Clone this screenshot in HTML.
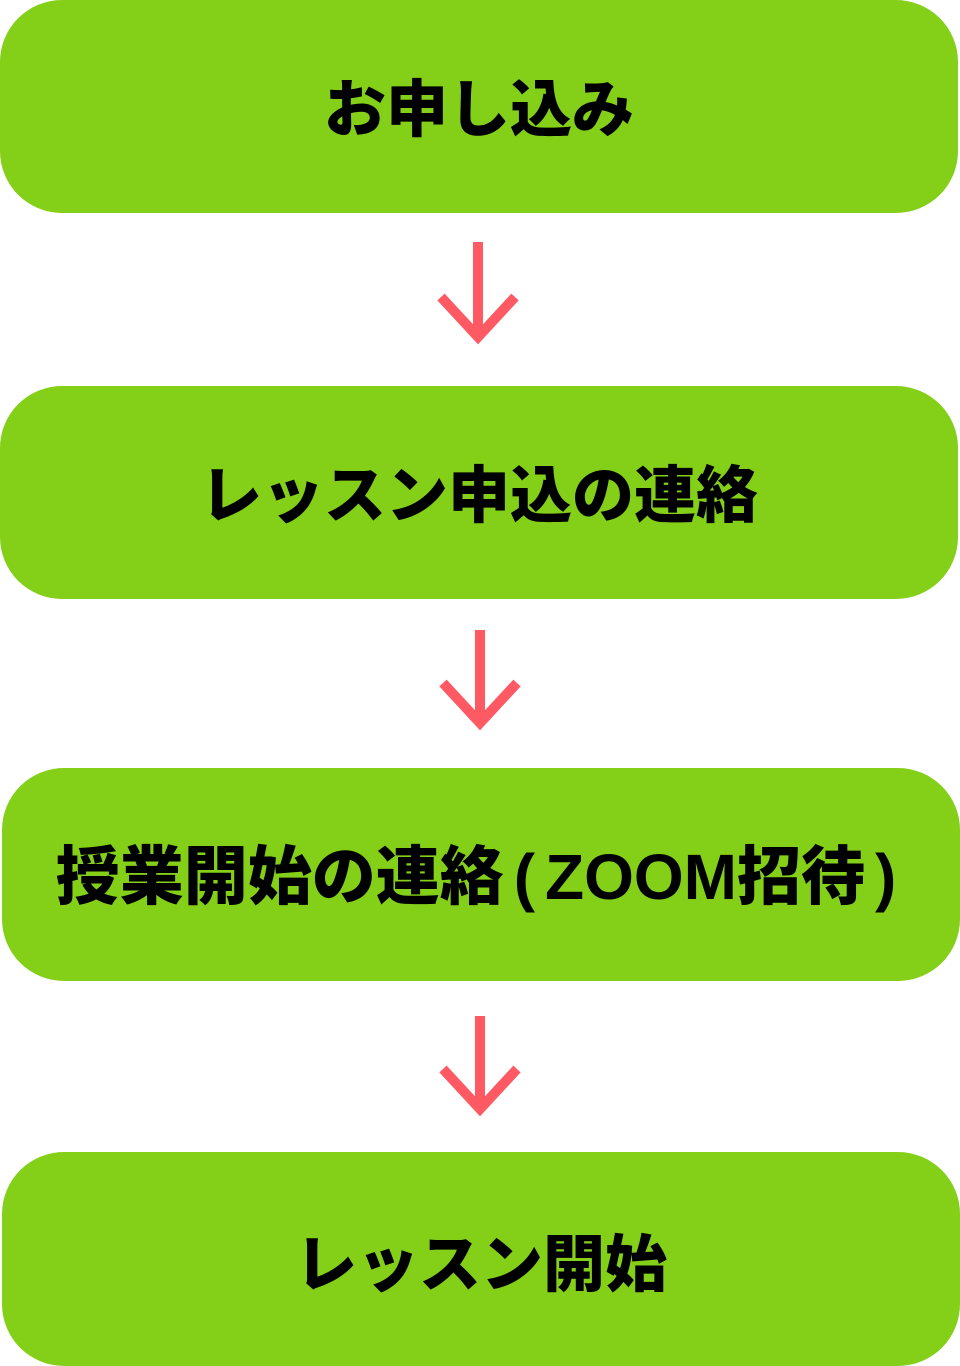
<!DOCTYPE html>
<html><head><meta charset="utf-8"><style>
body{margin:0;width:960px;height:1366px;background:#fff;position:relative;overflow:hidden;font-family:"Liberation Sans","Noto Sans CJK JP",sans-serif;}
.b{position:absolute;height:213px;width:958px;background:#84cf18;border-radius:62px;display:flex;align-items:center;justify-content:center;font-weight:900;font-size:62px;color:#000;box-sizing:border-box;padding-bottom:6px}
.p{display:inline-block;margin:0 10px;font-weight:bold}
svg{position:absolute;left:0;top:0}
</style></head><body>
<div class="b" style="left:0;top:0">お申し込み</div>
<div class="b" style="left:0;top:386px">レッスン申込の連絡</div>
<div class="b" style="left:2px;top:768px;font-size:64px"><span>授業開始の連絡<span class="p">(</span>ZOOM招待<span class="p">)</span></span></div>
<div class="b" style="left:2px;top:1152px;height:214px;padding-bottom:0">レッスン開始</div>
<svg width="960" height="1366" fill="none" stroke="#ff5a64" stroke-width="10">
<path d="M478 242V336M441 297L478 337L515 297"/>
<path d="M480 630V722M443 683L480 723L517 683"/>
<path d="M480 1016V1108M443 1069L480 1109L517 1069"/>
</svg>
</body></html>
